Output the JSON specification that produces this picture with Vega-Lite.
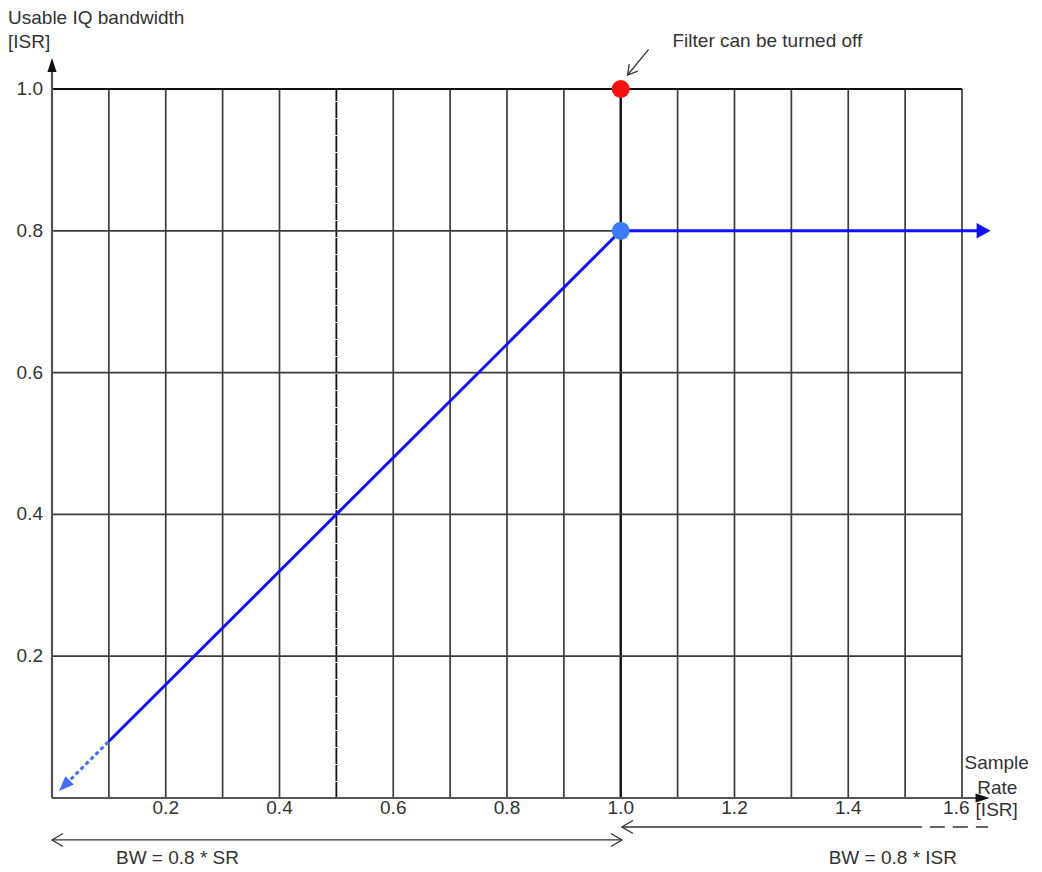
{
  "$schema": "https://vega.github.io/schema/vega-lite/v6.json",
  "width": 910,
  "height": 709,
  "autosize": "none",
  "padding": {"left": 52, "top": 89, "right": 80, "bottom": 74},
  "background": "white",
  "config": {"view": {"stroke": null}, "font": "Liberation Sans"},
  "layer": [
    {
      "data": {"values": [{"x": 0.1}, {"x": 0.2}, {"x": 0.3}, {"x": 0.4}, {"x": 0.6}, {"x": 0.7}, {"x": 0.8}, {"x": 0.9}, {"x": 1.1}, {"x": 1.2}, {"x": 1.3}, {"x": 1.4}, {"x": 1.5}, {"x": 1.6}]},
      "mark": {"type": "rule", "color": "#3c3c3c", "strokeWidth": 1.7},
      "encoding": {
        "x": {"field": "x", "type": "quantitative", "scale": {"domain": [0, 1.6], "nice": false, "zero": false}, "axis": null},
        "y": {"datum": 0, "type": "quantitative", "scale": {"domain": [0, 1], "nice": false}, "axis": null},
        "y2": {"datum": 1}
      }
    },
    {
      "data": {"values": [{"x": 0.5}]},
      "mark": {"type": "rule", "color": "#111111", "strokeWidth": 1.8, "strokeDash": [16, 1]},
      "encoding": {
        "x": {"field": "x", "type": "quantitative", "axis": null},
        "y": {"datum": 0, "type": "quantitative", "axis": null},
        "y2": {"datum": 1}
      }
    },
    {
      "data": {"values": [{"x": 1.0}]},
      "mark": {"type": "rule", "color": "#111111", "strokeWidth": 2.4},
      "encoding": {
        "x": {"field": "x", "type": "quantitative", "axis": null},
        "y": {"datum": 0, "type": "quantitative", "axis": null},
        "y2": {"datum": 1}
      }
    },
    {
      "data": {"values": [{"y": 0.2}, {"y": 0.4}, {"y": 0.6}, {"y": 0.8}]},
      "mark": {"type": "rule", "color": "#3c3c3c", "strokeWidth": 1.7},
      "encoding": {
        "y": {"field": "y", "type": "quantitative", "axis": null},
        "x": {"datum": 0, "type": "quantitative", "axis": null},
        "x2": {"datum": 1.6}
      }
    },
    {
      "data": {"values": [{"y": 1.0}]},
      "mark": {"type": "rule", "color": "#111111", "strokeWidth": 1.8},
      "encoding": {
        "y": {"field": "y", "type": "quantitative", "axis": null},
        "x": {"datum": 0, "type": "quantitative", "axis": null},
        "x2": {"datum": 1.6}
      }
    },
    {
      "data": {"values": [{"x": 0, "y": 0, "x2": 0, "y2": 1.03}, {"x": 0, "y": 0, "x2": 1.635, "y2": 0}]},
      "mark": {"type": "rule", "color": "#555555", "strokeWidth": 2.2},
      "encoding": {
        "x": {"field": "x", "type": "quantitative", "axis": null},
        "x2": {"field": "x2"},
        "y": {"field": "y", "type": "quantitative", "axis": null},
        "y2": {"field": "y2"}
      }
    },
    {
      "data": {"values": [{"x": 0, "y": 1.0437}]},
      "mark": {"type": "point", "filled": true, "color": "#111111", "opacity": 1, "size": 196, "shape": "M 0 0 L -0.65 2 L 0.65 2 Z"},
      "encoding": {
        "x": {"field": "x", "type": "quantitative", "axis": null},
        "y": {"field": "y", "type": "quantitative", "axis": null}
      }
    },
    {
      "data": {"values": [{"x": 1.6485, "y": 0}]},
      "mark": {"type": "point", "filled": true, "color": "#111111", "opacity": 1, "size": 196, "shape": "M 0 0 L -2 -0.65 L -2 0.65 Z"},
      "encoding": {
        "x": {"field": "x", "type": "quantitative", "axis": null},
        "y": {"field": "y", "type": "quantitative", "axis": null}
      }
    },
    {
      "data": {"values": [{"x": 0.1, "y": 0.08}, {"x": 1.0, "y": 0.8}, {"x": 1.628, "y": 0.8}]},
      "mark": {"type": "line", "color": "#1010ff", "strokeWidth": 3},
      "encoding": {
        "x": {"field": "x", "type": "quantitative", "axis": null},
        "y": {"field": "y", "type": "quantitative", "axis": null}
      }
    },
    {
      "data": {"values": [{"x": 0.033, "y": 0.0264}, {"x": 0.1, "y": 0.08}]},
      "mark": {"type": "line", "color": "#3d6cff", "strokeWidth": 3, "strokeDash": [4, 3]},
      "encoding": {
        "x": {"field": "x", "type": "quantitative", "axis": null},
        "y": {"field": "y", "type": "quantitative", "axis": null}
      }
    },
    {
      "data": {"values": [{"x": 1.6503, "y": 0.8}]},
      "mark": {"type": "point", "filled": true, "color": "#1010ff", "opacity": 1, "size": 196, "shape": "M 0 0 L -2 -1.1 L -2 1.1 Z"},
      "encoding": {
        "x": {"field": "x", "type": "quantitative", "axis": null},
        "y": {"field": "y", "type": "quantitative", "axis": null}
      }
    },
    {
      "data": {"values": [{"x": 0.0123, "y": 0.0099}]},
      "mark": {"type": "point", "filled": true, "color": "#3d6cff", "opacity": 1, "size": 225, "shape": "M 0 0 L 1.98 -0.85 L 0.85 -1.98 Z"},
      "encoding": {
        "x": {"field": "x", "type": "quantitative", "axis": null},
        "y": {"field": "y", "type": "quantitative", "axis": null}
      }
    },
    {
      "data": {"values": [{"x": 1.0, "y": 1.0}]},
      "mark": {"type": "point", "filled": true, "color": "#ff1010", "opacity": 1, "size": 324, "shape": "circle"},
      "encoding": {
        "x": {"field": "x", "type": "quantitative", "axis": null},
        "y": {"field": "y", "type": "quantitative", "axis": null}
      }
    },
    {
      "data": {"values": [{"x": 1.0, "y": 0.8}]},
      "mark": {"type": "point", "filled": true, "color": "#3a7bff", "opacity": 1, "size": 324, "shape": "circle"},
      "encoding": {
        "x": {"field": "x", "type": "quantitative", "axis": null},
        "y": {"field": "y", "type": "quantitative", "axis": null}
      }
    },
    {
      "data": {"values": [{"x": 1.049, "y": 1.056, "x2": 1.012, "y2": 1.0197}]},
      "mark": {"type": "rule", "color": "#333333", "strokeWidth": 1.3},
      "encoding": {
        "x": {"field": "x", "type": "quantitative", "axis": null},
        "x2": {"field": "x2"},
        "y": {"field": "y", "type": "quantitative", "axis": null},
        "y2": {"field": "y2"}
      }
    },
    {
      "data": {"values": [{"x": 1.012, "y": 1.0197}]},
      "mark": {"type": "point", "filled": false, "color": "#333333", "opacity": 1, "strokeWidth": 1.3, "size": 121, "shape": "M 1.87 -0.72 L 0 0 L 0.31 -1.98"},
      "encoding": {
        "x": {"field": "x", "type": "quantitative", "axis": null},
        "y": {"field": "y", "type": "quantitative", "axis": null}
      }
    },
    {
      "data": {"values": [{"x": 0, "x2": 1.002, "y": -0.0592}, {"x": 1.002, "x2": 1.503, "y": -0.0409}]},
      "mark": {"type": "rule", "color": "#333333", "strokeWidth": 1.3},
      "encoding": {
        "x": {"field": "x", "type": "quantitative", "axis": null},
        "x2": {"field": "x2"},
        "y": {"field": "y", "type": "quantitative", "axis": null}
      }
    },
    {
      "data": {"values": [{"x": 1.503, "x2": 1.646, "y": -0.0409}]},
      "mark": {"type": "rule", "color": "#333333", "strokeWidth": 1.3, "strokeDash": [15, 8]},
      "encoding": {
        "x": {"field": "x", "type": "quantitative", "axis": null},
        "x2": {"field": "x2"},
        "y": {"field": "y", "type": "quantitative", "axis": null}
      }
    },
    {
      "data": {"values": [{"x": 0, "y": -0.0592}, {"x": 1.002, "y": -0.0409}]},
      "mark": {"type": "point", "filled": false, "color": "#333333", "opacity": 1, "strokeWidth": 1.3, "size": 169, "shape": "M 1.7 -1 L 0 0 L 1.7 1"},
      "encoding": {
        "x": {"field": "x", "type": "quantitative", "axis": null},
        "y": {"field": "y", "type": "quantitative", "axis": null}
      }
    },
    {
      "data": {"values": [{"x": 1.002, "y": -0.0592}]},
      "mark": {"type": "point", "filled": false, "color": "#333333", "opacity": 1, "strokeWidth": 1.3, "size": 169, "shape": "M -1.7 -1 L 0 0 L -1.7 1"},
      "encoding": {
        "x": {"field": "x", "type": "quantitative", "axis": null},
        "y": {"field": "y", "type": "quantitative", "axis": null}
      }
    },
    {
      "data": {"values": [
        {"x": 0.2, "y": -0.0141, "text": "0.2"},
        {"x": 0.4, "y": -0.0141, "text": "0.4"},
        {"x": 0.6, "y": -0.0141, "text": "0.6"},
        {"x": 0.8, "y": -0.0141, "text": "0.8"},
        {"x": 1.0, "y": -0.0141, "text": "1.0"},
        {"x": 1.2, "y": -0.0141, "text": "1.2"},
        {"x": 1.4, "y": -0.0141, "text": "1.4"},
        {"x": 1.59, "y": -0.0141, "text": "1.6"},
        {"x": 1.661, "y": 0.0494, "text": "Sample"},
        {"x": 1.662, "y": 0.0141, "text": "Rate"},
        {"x": 1.661, "y": -0.0169, "text": "[ISR]"}
      ]},
      "mark": {"type": "text", "align": "center", "baseline": "middle", "font": "Liberation Sans", "fontSize": 19, "color": "#333333"},
      "encoding": {
        "x": {"field": "x", "type": "quantitative", "axis": null},
        "y": {"field": "y", "type": "quantitative", "axis": null},
        "text": {"field": "text"}
      }
    },
    {
      "data": {"values": [
        {"x": -0.0158, "y": 0.2, "text": "0.2"},
        {"x": -0.0158, "y": 0.4, "text": "0.4"},
        {"x": -0.0158, "y": 0.6, "text": "0.6"},
        {"x": -0.0158, "y": 0.8, "text": "0.8"},
        {"x": -0.0158, "y": 1.0, "text": "1.0"}
      ]},
      "mark": {"type": "text", "align": "right", "baseline": "middle", "font": "Liberation Sans", "fontSize": 19, "color": "#333333"},
      "encoding": {
        "x": {"field": "x", "type": "quantitative", "axis": null},
        "y": {"field": "y", "type": "quantitative", "axis": null},
        "text": {"field": "text"}
      }
    },
    {
      "data": {"values": [
        {"x": -0.0773, "y": 1.1001, "text": "Usable IQ bandwidth"},
        {"x": -0.0773, "y": 1.0663, "text": "[ISR]"},
        {"x": 1.091, "y": 1.068, "text": "Filter can be turned off"},
        {"x": 0.1125, "y": -0.0846, "text": "BW = 0.8 * SR"},
        {"x": 1.3656, "y": -0.0846, "text": "BW = 0.8 * ISR"}
      ]},
      "mark": {"type": "text", "align": "left", "baseline": "middle", "font": "Liberation Sans", "fontSize": 19, "color": "#333333"},
      "encoding": {
        "x": {"field": "x", "type": "quantitative", "axis": null},
        "y": {"field": "y", "type": "quantitative", "axis": null},
        "text": {"field": "text"}
      }
    }
  ]
}
